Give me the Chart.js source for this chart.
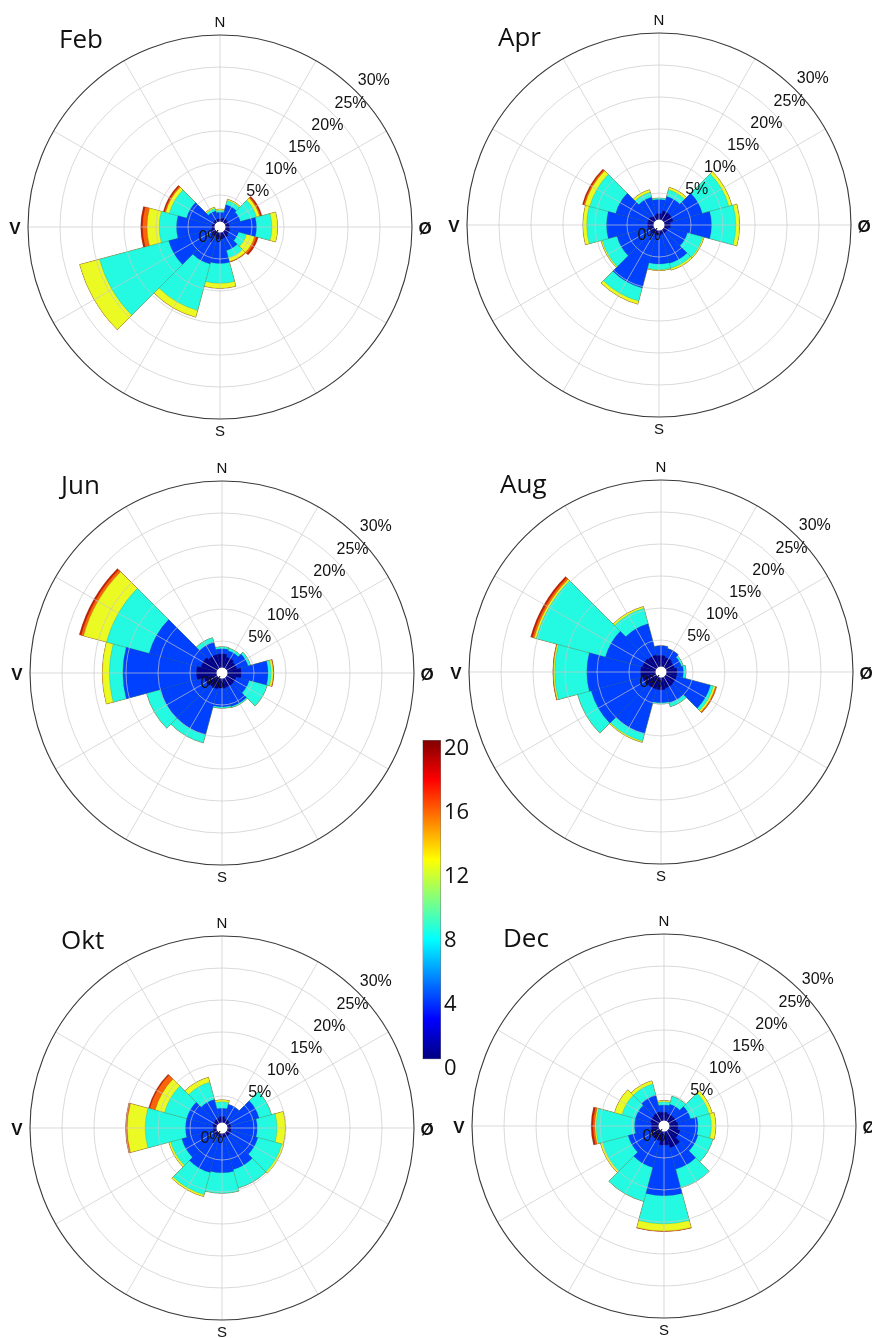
<!DOCTYPE html>
<html>
<head>
<meta charset="utf-8">
<script src="https://cdn.jsdelivr.net/npm/chart.js@4.4.1/dist/chart.umd.min.js"></script>
<style>
html,body{margin:0;padding:0;background:#fff;overflow:hidden;width:872px;height:1338px;position:relative;}
canvas{position:absolute;}
</style>
</head>
<body>
<canvas id="c-feb" width="440" height="440" style="left:0px;top:7px"></canvas>
<canvas id="c-apr" width="440" height="440" style="left:439px;top:5px"></canvas>
<canvas id="c-jun" width="440" height="440" style="left:2px;top:453px"></canvas>
<canvas id="c-aug" width="440" height="440" style="left:441px;top:452px"></canvas>
<canvas id="c-okt" width="440" height="440" style="left:2px;top:908px"></canvas>
<canvas id="c-dec" width="440" height="440" style="left:444px;top:906px"></canvas>
<canvas id="c-bar" width="60" height="370" style="left:420px;top:720px"></canvas>
<script>
// ---------- categories / ticks ----------
const directions = ['N','NNØ','ØNØ','Ø','ØSØ','SSØ','S','SSV','VSV','V','VNV','NNV'];
const speedBins = ['0–2 m/s','2–6 m/s','6–10 m/s','10–14 m/s','14–17 m/s','17–20 m/s'];
const percentTicks = [0,5,10,15,20,25,30];
const cbarTicks = [0,4,8,12,16,20];
const cbarMax = [20];
const spokeAngles = [0,30,60,90,120,150,180,210,240,270,300,330];

// ---------- values: cumulative frequency (%) up to the top of each speed band ----------
const febNavy   = [1.3,1.5,1.4,1.5,1.6,1.8,1.9,1.6,1.4,1.3,1.2,1.3];
const febBlue   = [2.3,3.6,3.3,5.7,3.0,3.8,5.7,6.0,8.3,6.8,5.4,2.6];
const febCyan   = [2.6,4.3,5.9,8.1,4.3,5.0,8.8,13.5,19.5,9.5,8.2,3.0];
const febYellow = [2.8,4.5,6.4,9.0,5.6,5.6,9.6,14.6,22.7,11.4,8.8,3.2];
const febOrange = [2.8,4.5,6.6,9.0,5.9,5.7,9.6,14.6,22.7,12.1,9.0,3.2];
const febRed    = [2.8,4.5,6.8,9.0,6.2,5.7,9.6,14.6,22.7,12.4,9.2,3.2];

const aprNavy   = [1.8,2.3,2.3,1.8,1.5,1.5,1.6,1.6,1.5,1.8,1.8,1.6];
const aprBlue   = [4.0,4.6,7.0,8.2,4.6,6.2,6.1,10.2,6.8,8.2,7.0,4.5];
const aprCyan   = [4.2,5.7,11.3,12.0,7.1,7.0,7.0,12.3,9.2,11.3,11.2,5.3];
const aprYellow = [4.2,6.1,11.8,12.6,7.3,7.3,7.1,12.8,9.4,11.9,12.0,5.7];
const aprOrange = [4.2,6.1,11.8,12.6,7.3,7.3,7.1,12.8,9.4,11.9,12.2,5.7];
const aprRed    = [4.2,6.1,11.8,12.6,7.3,7.3,7.1,12.8,9.4,11.9,12.4,5.7];

const junNavy   = [3.0,2.6,2.4,3.0,2.3,2.3,2.4,2.6,2.9,4.0,3.4,3.0];
const junBlue   = [3.8,3.6,4.2,7.2,4.4,5.4,5.3,10.0,10.0,15.5,11.8,5.0];
const junCyan   = [4.1,4.0,4.6,7.7,7.3,5.6,5.5,11.3,12.2,17.6,18.7,5.7];
const junYellow = [4.1,4.0,4.6,8.0,7.3,5.6,5.5,11.3,12.2,18.7,22.4,5.7];
const junOrange = [4.1,4.0,4.6,8.1,7.3,5.6,5.5,11.3,12.2,18.7,22.8,5.7];
const junRed    = [4.1,4.0,4.6,8.1,7.3,5.6,5.5,11.3,12.2,18.7,23.1,5.7];

const augNavy   = [2.6,2.4,2.2,2.5,2.5,2.6,2.8,2.8,3.0,3.2,3.0,2.8];
const augBlue   = [4.1,3.8,3.3,3.5,8.0,5.0,4.8,10.0,11.3,11.6,9.0,7.8];
const augCyan   = [4.1,3.8,3.6,3.9,8.5,5.6,5.0,11.2,13.5,16.6,20.2,10.3];
const augYellow = [4.1,3.8,3.6,3.9,8.8,5.6,5.0,11.4,13.5,16.8,20.5,10.6];
const augOrange = [4.1,3.8,3.6,3.9,9.0,5.6,5.0,11.4,13.5,16.9,20.8,10.6];
const augRed    = [4.1,3.8,3.6,3.9,9.0,5.6,5.0,11.4,13.5,16.9,21.1,10.6];

const oktNavy   = [1.8,1.5,1.4,1.4,1.5,1.5,1.5,1.4,1.4,1.4,1.5,1.6];
const oktBlue   = [3.1,3.8,6.0,5.5,5.8,6.7,7.0,7.2,6.5,5.7,5.7,4.6];
const oktCyan   = [4.1,3.8,8.0,8.6,9.7,9.7,10.2,10.8,8.3,12.0,9.3,7.4];
const oktYellow = [4.4,3.8,8.0,9.9,10.0,9.7,10.2,11.1,8.6,14.8,10.8,8.2];
const oktOrange = [4.4,3.8,8.0,9.9,10.0,9.7,10.2,11.1,8.6,15.0,11.7,8.2];
const oktRed    = [4.4,3.8,8.0,9.9,10.0,9.7,10.2,11.1,8.6,15.1,11.9,8.2];

const decNavy   = [2.2,2.0,2.0,2.2,2.6,3.5,3.0,2.4,2.2,2.0,2.2,2.3];
const decBlue   = [3.3,3.5,4.3,5.3,5.5,7.0,10.9,6.7,5.8,4.6,4.6,5.0];
const decCyan   = [3.8,4.8,7.3,7.4,7.9,10.0,15.3,12.2,10.0,10.6,6.8,6.8];
const decYellow = [4.0,4.8,7.8,8.1,7.9,10.0,16.4,12.2,10.3,10.8,8.0,7.3];
const decOrange = [4.0,4.8,7.8,8.1,7.9,10.0,16.5,12.2,10.3,11.1,8.0,7.3];
const decRed    = [4.0,4.8,7.8,8.1,7.9,10.0,16.5,12.2,10.3,11.4,8.0,7.3];

// ---------- styles ----------
const bandColors = ['rgb(0,0,140)','rgb(0,64,255)','rgb(35,250,225)','rgb(235,250,35)','rgb(250,100,10)','rgb(200,30,0)'];
const jetStops = [[0,'rgb(0,0,128)'],[0.125,'rgb(0,0,255)'],[0.375,'rgb(0,255,255)'],[0.625,'rgb(255,255,0)'],[0.875,'rgb(255,0,0)'],[1,'rgb(128,0,0)']];
const SANS = '"Liberation Sans", Arial, sans-serif';
const TITLEFONT = '"Open Sans", sans-serif';

const roseDecor = {
  id: 'roseDecor',
  afterDatasetsDraw(chart) {
    const s = chart.scales.r, ctx = chart.ctx;
    const cx = s.xCenter, cy = s.yCenter;
    const r0 = s.getDistanceFromCenterForValue(0);
    const r1 = s.getDistanceFromCenterForValue(percentTicks[percentTicks.length - 1]);
    ctx.save();
    ctx.strokeStyle = 'rgba(200,200,200,0.85)';
    ctx.lineWidth = 0.8;
    spokeAngles.forEach(a => {
      const t = a * Math.PI / 180;
      ctx.beginPath();
      ctx.moveTo(cx + r0 * Math.sin(t), cy - r0 * Math.cos(t));
      ctx.lineTo(cx + r1 * Math.sin(t), cy - r1 * Math.cos(t));
      ctx.stroke();
    });
    ctx.restore();
  },
  afterDraw(chart) {
    const s = chart.scales.r, ctx = chart.ctx;
    const cx = s.xCenter, cy = s.yCenter;
    const title = chart.options.plugins.roseDecor.title;
    ctx.save();
    // central hole
    ctx.fillStyle = '#fff';
    ctx.beginPath();
    ctx.arc(cx, cy, 5.5, 0, Math.PI * 2);
    ctx.fill();
    // percentage labels
    ctx.fillStyle = '#111';
    ctx.font = '16px ' + SANS;
    ctx.textAlign = 'center';
    ctx.textBaseline = 'middle';
    const la = 46.5 * Math.PI / 180;
    percentTicks.forEach(v => {
      if (v === 0) { ctx.fillText('0%', cx - 10, cy + 11); return; }
      const r = s.getDistanceFromCenterForValue(v) + 20;
      ctx.fillText(v + '%', cx + r * Math.sin(la), cy - r * Math.cos(la));
    });
    // compass letters
    ctx.font = '15px ' + SANS;
    ctx.fillText('N', cx, cy - 204);
    ctx.fillText('S', cx, cy + 205);
    ctx.font = 'bold 17px ' + SANS;
    ctx.fillText('V', cx - 205, cy + 2);
    ctx.fillText('Ø', cx + 205, cy + 2);
    // title
    ctx.font = '26px ' + TITLEFONT;
    ctx.textAlign = 'left';
    ctx.textBaseline = 'alphabetic';
    ctx.fillText(title, cx - 161, cy - 179);
    ctx.restore();
  }
};

function makeRose(canvasId, title, bands) {
  return new Chart(document.getElementById(canvasId), {
    type: 'polarArea',
    data: {
      labels: directions,
      datasets: bands.map((b, i) => ({
        label: speedBins[i],
        data: b,
        backgroundColor: bandColors[i],
        borderColor: 'rgba(60,60,60,0.28)',
        borderWidth: 0.6
      }))
    },
    options: {
      responsive: false,
      animation: false,
      layout: { padding: 0 },
      plugins: { legend: { display: false }, tooltip: { enabled: false }, roseDecor: { title: title } },
      scales: {
        r: {
          min: 0,
          max: 34.375,
          startAngle: -15,
          ticks: { display: false },
          pointLabels: { display: false },
          angleLines: { display: false },
          grid: {
            z: 1,
            circular: true,
            color: c => (c.tick && c.tick.value === 30) ? '#3a3a3a' : 'rgba(200,200,200,0.85)',
            lineWidth: c => (c.tick && c.tick.value === 30) ? 1.1 : 0.8
          },
          afterBuildTicks: sc => { sc.ticks = percentTicks.map(v => ({ value: v })); }
        }
      }
    },
    plugins: [roseDecor]
  });
}

makeRose('c-feb', 'Feb', [febNavy, febBlue, febCyan, febYellow, febOrange, febRed]);
makeRose('c-apr', 'Apr', [aprNavy, aprBlue, aprCyan, aprYellow, aprOrange, aprRed]);
makeRose('c-jun', 'Jun', [junNavy, junBlue, junCyan, junYellow, junOrange, junRed]);
makeRose('c-aug', 'Aug', [augNavy, augBlue, augCyan, augYellow, augOrange, augRed]);
makeRose('c-okt', 'Okt', [oktNavy, oktBlue, oktCyan, oktYellow, oktOrange, oktRed]);
makeRose('c-dec', 'Dec', [decNavy, decBlue, decCyan, decYellow, decOrange, decRed]);

// ---------- colour bar ----------
new Chart(document.getElementById('c-bar'), {
  type: 'bar',
  data: {
    labels: ['m/s'],
    datasets: [{
      data: cbarMax,
      backgroundColor: c => {
        const a = c.chart.chartArea;
        if (!a) return 'rgb(0,0,255)';
        const g = c.chart.ctx.createLinearGradient(0, a.bottom, 0, a.top);
        jetStops.forEach(([p, col]) => g.addColorStop(p, col));
        return g;
      },
      borderColor: '#777',
      borderWidth: 0.8,
      borderSkipped: false,
      barPercentage: 1,
      categoryPercentage: 1
    }]
  },
  options: {
    responsive: false,
    animation: false,
    layout: { padding: { left: 2.5, right: 4, top: 20, bottom: 30.7 } },
    plugins: { legend: { display: false }, tooltip: { enabled: false } },
    scales: {
      x: { display: false },
      y: {
        position: 'right',
        min: 0,
        max: 20,
        afterBuildTicks: sc => { sc.ticks = cbarTicks.map(v => ({ value: v })); },
        afterFit: sc => { sc.width = 35; },
        grid: { display: false, drawTicks: false },
        border: { display: false },
        ticks: { font: { family: 'Open Sans', size: 22 }, color: '#111', padding: 3, labelOffset: 9 }
      }
    }
  }
});
</script>
</body>
</html>
